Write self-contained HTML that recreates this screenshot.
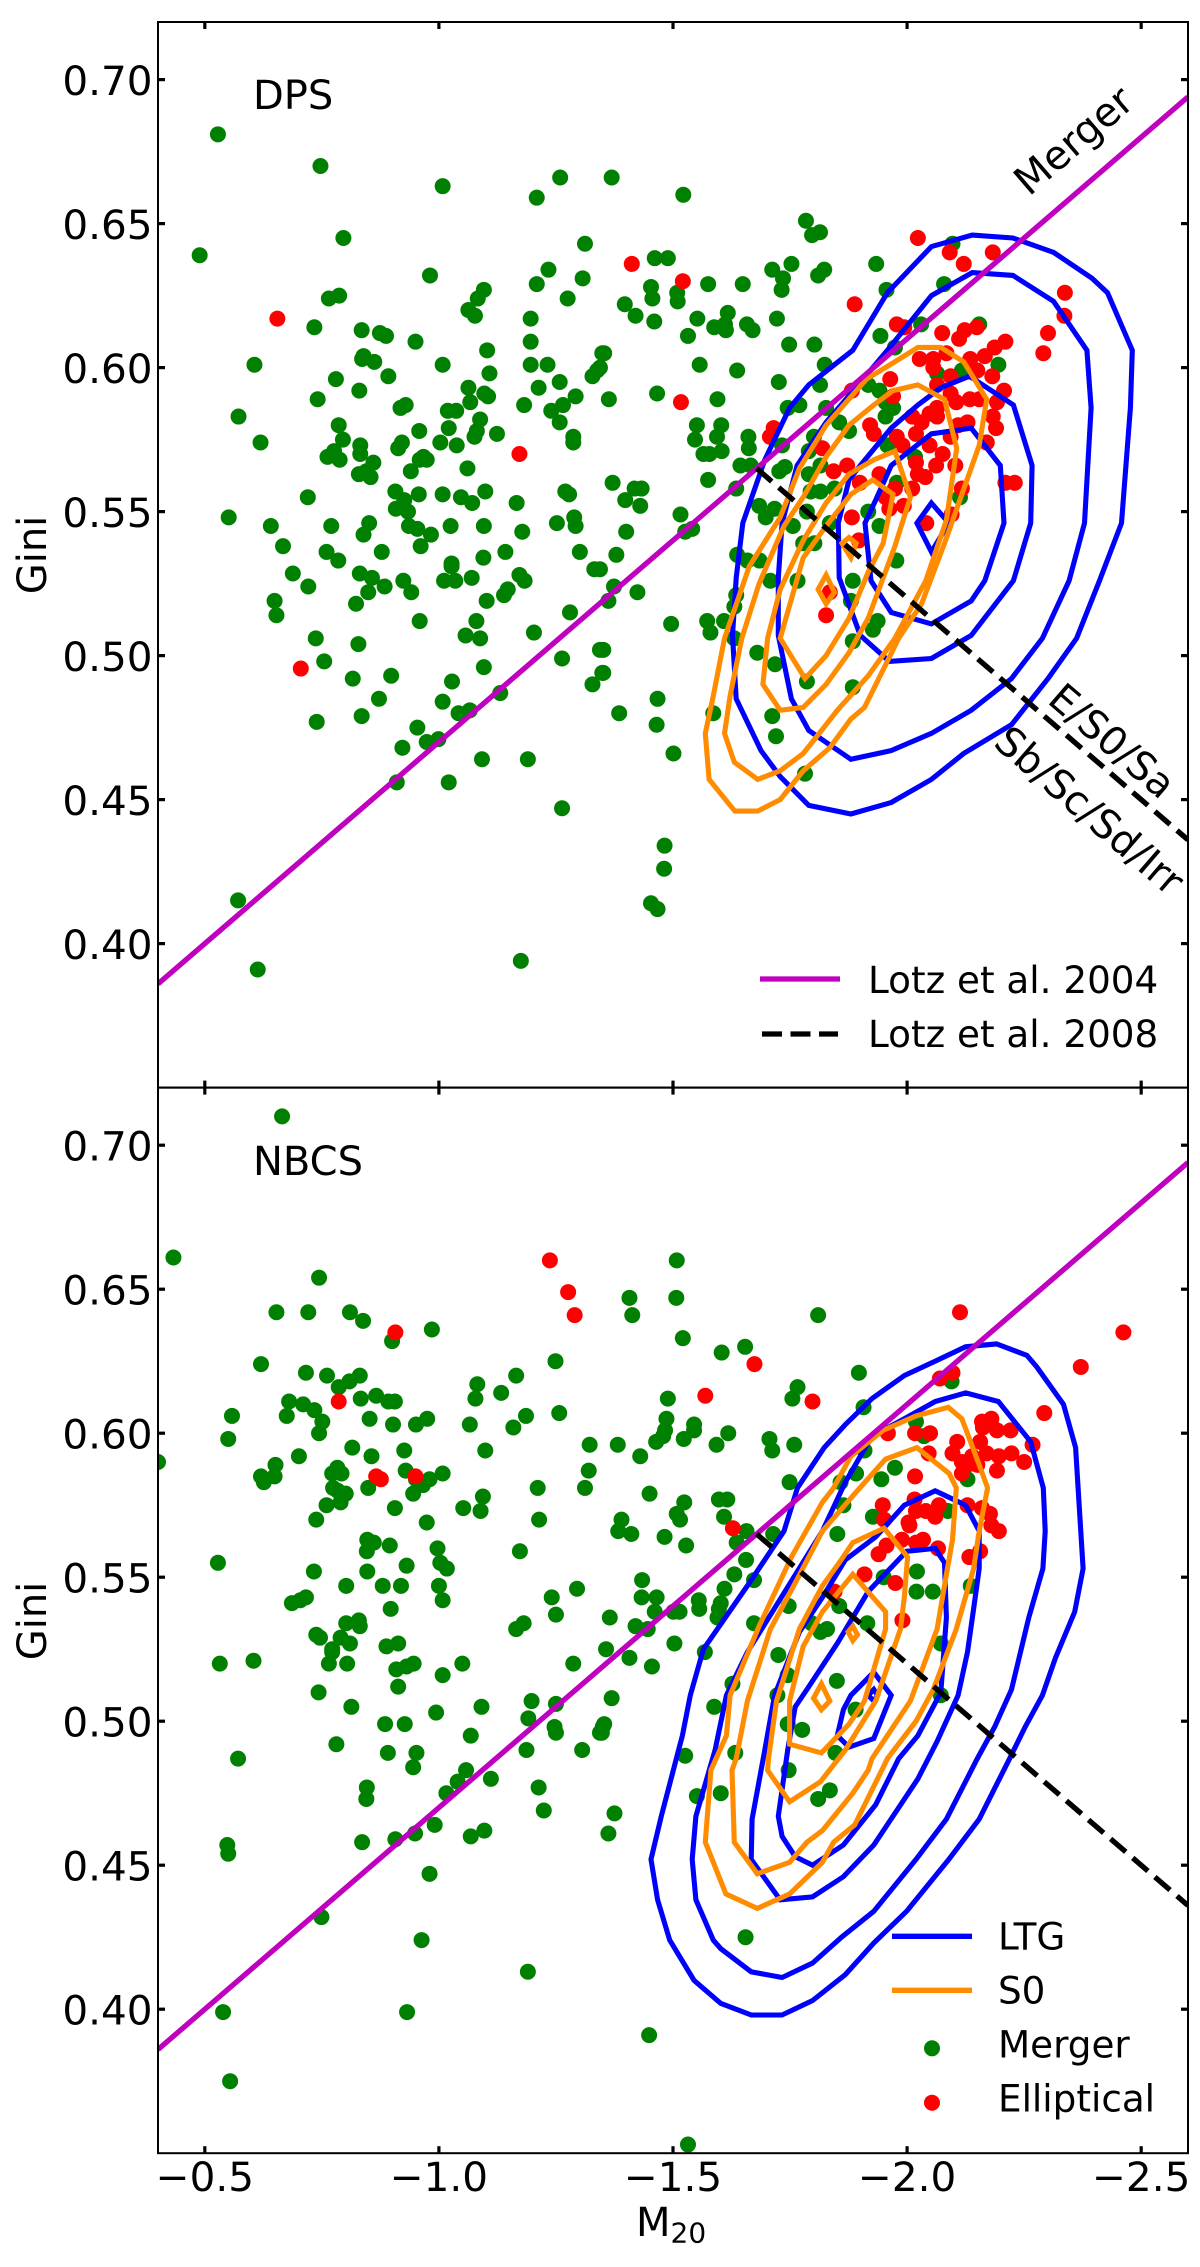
<!DOCTYPE html>
<html lang="en">
<head>
<meta charset="utf-8">
<title>Gini vs M20 for DPS and NBCS</title>
<style>
html,body{margin:0;padding:0;background:#fff;width:1200px;height:2267px;overflow:hidden}
svg{display:block}
text{font-family:"DejaVu Sans","Liberation Sans",sans-serif;fill:#000}
</style>
</head>
<body>
<svg id="figure" width="1200" height="2267" viewBox="0 0 1200 2267" xmlns="http://www.w3.org/2000/svg">
<defs>
<clipPath id="clip-dps"><rect x="158" y="22" width="1030" height="1066"/></clipPath>
<clipPath id="clip-nbcs"><rect x="158" y="1088" width="1030" height="1066"/></clipPath>
</defs>
<g id="marks-dps" clip-path="url(#clip-dps)"></g>
<g id="marks-nbcs" clip-path="url(#clip-nbcs)"></g>
<g id="axes"></g>
<text x="253" y="109" font-size="40">DPS</text>
<text x="253" y="1175" font-size="40">NBCS</text>
<text transform="translate(46 555) rotate(-90)" text-anchor="middle" font-size="40">Gini</text>
<text transform="translate(46 1621) rotate(-90)" text-anchor="middle" font-size="40">Gini</text>
<text x="636" y="2236" font-size="40">M<tspan dy="6.7" font-size="28">20</tspan></text>
<text transform="translate(1029 197) rotate(-40.7)" font-size="40">Merger</text>
<text transform="translate(1046 702) rotate(40.7)" font-size="39.5">E/S0/Sa</text>
<text transform="translate(992 745) rotate(40.7)" font-size="40">Sb/Sc/Sd/Irr</text>
<g>
<line x1="760" x2="840" y1="979" y2="979" stroke="#bf00bf" stroke-width="5.3"/>
<text x="868" y="993" font-size="37.3">Lotz et al. 2004</text>
<line x1="762" x2="838" y1="1034" y2="1034" stroke="#000" stroke-width="5.3" stroke-dasharray="20 8.5"/>
<text x="868" y="1047" font-size="37.3">Lotz et al. 2008</text>
</g>
<g>
<line x1="892" x2="972" y1="1936.3" y2="1936.3" stroke="#0000ff" stroke-width="5.3"/>
<text x="998" y="1949.3" font-size="37.3">LTG</text>
<line x1="892" x2="972" y1="1990.3" y2="1990.3" stroke="#ff8c00" stroke-width="5.3"/>
<text x="998" y="2003.7" font-size="37.3">S0</text>
<circle cx="932" cy="2048.3" r="8" fill="#008000"/>
<text x="998" y="2057.7" font-size="37.3">Merger</text>
<circle cx="932" cy="2102.7" r="8" fill="#ff0000"/>
<text x="998" y="2111.7" font-size="37.3">Elliptical</text>
</g>
</svg>
<script>
const xLimits = [-0.4, -2.6];
const yLimits = [0.35, 0.72];
const xTicks = [-0.5, -1.0, -1.5, -2.0, -2.5];
const yTicks = [0.40, 0.45, 0.50, 0.55, 0.60, 0.65, 0.70];
const lotz2004 = [-0.14, 0.33];
const lotz2008 = [0.14, 0.80];

const dpsMerger = [[-.528,.681],[-.747,.670],[-1.008,.663],[-1.259,.666],[-1.209,.659],[-.796,.645],[-.489,.639],[-1.312,.643],[-1.234,.634],[-.981,.632],[-1.209,.629],[-1.307,.631],[-.787,.625],[-.765,.624],[-1.275,.624],[-1.096,.627],[-1.083,.624],[-1.063,.620],[-1.077,.618],[-.734,.614],[-1.196,.617],[-.835,.613],[-.874,.612],[-.887,.611],[-.950,.609],[-1.196,.609],[-.839,.604],[-1.103,.606],[-.836,.603],[-.862,.602],[-.606,.601],[-1.008,.601],[-1.196,.601],[-1.232,.601],[-1.349,.605],[-1.338,.599],[-1.328,.597],[-.780,.596],[-.892,.597],[-1.108,.598],[-1.258,.595],[-.830,.592],[-1.063,.593],[-1.213,.593],[-1.097,.591],[-1.105,.590],[-1.292,.590],[-.741,.589],[-1.067,.588],[-.929,.587],[-.918,.586],[-1.182,.587],[-1.265,.587],[-1.240,.585],[-1.019,.585],[-1.037,.585],[-.572,.583],[-1.258,.581],[-1.088,.582],[-.786,.580],[-1.021,.579],[-.958,.578],[-1.081,.578],[-1.124,.577],[-1.076,.576],[-.795,.575],[-1.287,.576],[-.619,.574],[-1.287,.574],[-1.003,.574],[-.921,.574],[-.832,.573],[-1.038,.573],[-.913,.572],[-.776,.571],[-.762,.569],[-.788,.568],[-.832,.570],[-.967,.569],[-.959,.568],[-.974,.568],[-.860,.567],[-.845,.564],[-.829,.563],[-.854,.562],[-.940,.564],[-1.061,.565],[-.907,.557],[-.926,.554],[-.957,.556],[-1.008,.556],[-1.047,.555],[-1.071,.553],[-1.099,.557],[-1.270,.557],[-1.278,.556],[-1.166,.553],[-.720,.555],[-.908,.551],[-.934,.550],[-.551,.548],[-.641,.545],[-.770,.545],[-.851,.546],[-.936,.545],[-.954,.544],[-1.025,.545],[-1.096,.545],[-1.252,.546],[-1.289,.548],[-1.292,.545],[-1.178,.543],[-.983,.542],[-.839,.542],[-.961,.538],[-.667,.538],[-.760,.536],[-.878,.536],[-.785,.533],[-1.142,.536],[-1.095,.534],[-1.301,.536],[-1.027,.532],
[-.688,.5285],[-.721,.524],[-.649,.519],[-.653,.514],[-.831,.5285],[-.857,.527],[-.849,.522],[-.884,.524],[-.924,.526],[-.941,.522],[-.823,.518],[-1.011,.526],[-1.035,.526],[-1.070,.527],[-1.027,.531],[-1.172,.528],[-1.183,.526],[-1.147,.523],[-1.139,.521],[-1.102,.519],[-1.332,.530],[-1.280,.515],[-.959,.512],[-1.080,.512],[-1.057,.507],[-1.088,.506],[-1.203,.508],[-.737,.506],[-.828,.504],[-1.344,.502],[-.755,.498],[-1.096,.496],[-1.263,.499],[-.816,.492],[-.898,.493],[-1.028,.491],[-1.349,.494],[-1.328,.490],[-1.131,.487],[-.872,.485],[-1.008,.484],[-.835,.479],[-1.066,.481],[-1.042,.480],[-.739,.477],[-.954,.475],[-.999,.471],[-.974,.470],[-.922,.468],[-1.092,.464],[-1.190,.464],[-.910,.456],[-1.021,.456],[-1.263,.447],[-.571,.415],[-.613,.391],[-1.175,.394],
[-1.369,.666],[-1.522,.660],[-1.784,.651],[-1.814,.647],[-1.797,.646],[-1.461,.638],[-1.489,.638],[-1.753,.636],[-1.712,.634],[-1.735,.631],[-1.732,.627],[-1.823,.634],[-1.810,.632],[-1.934,.636],[-1.453,.628],[-1.456,.624],[-1.509,.626],[-1.510,.623],[-1.575,.629],[-1.649,.629],[-1.397,.622],[-1.420,.618],[-1.460,.616],[-1.552,.617],[-1.617,.619],[-1.588,.614],[-1.611,.615],[-1.613,.613],[-1.658,.615],[-1.670,.613],[-1.722,.617],[-1.532,.611],[-1.748,.608],[-1.802,.608],[-1.943,.611],[-1.956,.627],[-2.079,.629],[-2.097,.643],[-1.353,.605],[-1.344,.600],[-1.557,.601],[-1.637,.599],[-1.726,.595],[-1.824,.601],[-1.814,.594],[-1.363,.589],[-1.466,.591],[-1.595,.589],[-1.551,.580],[-1.603,.580],[-1.594,.576],[-1.547,.575],[-1.661,.576],[-1.662,.572],[-1.604,.571],[-1.565,.570],[-1.578,.570],[-1.644,.566],[-1.666,.566],[-1.739,.5655],[-1.727,.564],[-1.575,.561],[-1.371,.560],[-1.418,.558],[-1.433,.558],[-1.398,.554],[-1.430,.552],[-1.635,.558],[-1.516,.549],[-1.684,.552],[-1.698,.548],[-1.717,.551],[-1.400,.543],[-1.541,.544],[-1.526,.543],[-1.379,.535],[-1.344,.530],[-1.374,.524],[-1.424,.522],[-1.362,.519],[-1.637,.535],[-1.659,.533],[-1.685,.533],[-1.708,.526],[-1.635,.521],[-1.631,.517],[-1.496,.511],[-1.573,.512],[-1.580,.508],[-1.609,.512],[-1.631,.506],[-1.351,.502],[-1.351,.494],[-1.680,.501],[-1.718,.497],[-1.467,.485],[-1.385,.480],[-1.586,.480],
[-1.745,.586],[-1.770,.587],[-1.827,.586],[-1.855,.581],[-1.876,.578],[-1.917,.594],[-1.941,.592],[-1.954,.588],[-1.970,.586],[-1.954,.583],[-1.974,.607],[-1.801,.576],[-1.790,.571],[-1.733,.573],[-1.815,.566],[-1.790,.563],[-1.815,.557],[-1.794,.557],[-1.845,.558],[-1.786,.550],[-1.756,.545],[-1.835,.546],[-1.917,.550],[-1.941,.545],[-1.778,.539],[-1.802,.539],[-1.766,.526],[-1.884,.526],[-1.977,.533],[-1.880,.519],[-1.937,.512],[-1.927,.509],[-1.884,.505],[-1.786,.491],[-1.884,.489],[-1.958,.573],[-1.978,.560],[-2.017,.569],[-2.064,.598],[-2.117,.599],[-2.030,.615],[-2.154,.615],[-2.195,.601],[-2.170,.574],[-2.113,.555],
[-1.465,.476],[-1.501,.466],[-1.712,.479],[-1.720,.472],[-1.782,.459],[-1.482,.434],[-1.481,.426],[-1.453,.414],[-1.467,.412]];

const dpsElliptical = [[-.655,.617],[-1.172,.570],[-.705,.4955],[-1.412,.636],[-1.521,.630],[-1.517,.588],[-2.023,.645],[-2.091,.640],[-2.121,.636],[-2.183,.640],[-2.337,.626],[-2.336,.618],[-2.301,.612],[-2.291,.605],[-1.888,.622],[-1.978,.615],[-1.994,.614],[-2.075,.612],[-2.111,.610],[-2.123,.613],[-2.149,.614],[-2.210,.609],[-2.187,.607],[-2.084,.605],[-2.027,.603],[-2.056,.603],[-2.056,.600],[-2.135,.603],[-2.166,.604],[-2.150,.599],[-2.093,.597],[-2.182,.597],[-1.964,.596],[-1.882,.592],[-1.970,.590],[-2.064,.594],[-2.093,.591],[-2.134,.589],[-2.154,.589],[-2.105,.588],[-2.207,.592],[-2.192,.588],[-2.064,.586],[-2.048,.584],[-2.064,.583],[-2.011,.583],[-2.031,.581],[-1.921,.580],[-1.929,.577],[-2.129,.581],[-2.109,.580],[-2.183,.583],[-2.190,.579],[-2.019,.577],[-1.978,.576],[-1.990,.573],[-2.048,.573],[-2.093,.576],[-2.076,.570],[-2.170,.574],[-2.019,.567],[-2.062,.566],[-2.103,.566],[-2.023,.563],[-2.039,.562],[-1.715,.579],[-1.707,.576],[-1.819,.572],[-1.872,.566],[-1.843,.564],[-1.941,.563],[-1.899,.560],[-1.974,.558],[-2.011,.558],[-2.117,.558],[-1.954,.555],[-1.993,.552],[-1.962,.551],[-1.882,.548],[-2.210,.560],[-2.230,.560],[-2.095,.549],[-2.041,.546],[-1.897,.540],[-1.835,.522],[-1.827,.514]];

const nbcsMerger = [[-.400,.590],[-.665,.710],[-.433,.661],[-.744,.654],[-.653,.642],[-.721,.642],[-.810,.642],[-.838,.639],[-.900,.632],[-.985,.636],[-.620,.624],[-.716,.621],[-.761,.620],[-.786,.616],[-.809,.618],[-.831,.620],[-1.082,.617],[-1.078,.612],[-1.133,.614],[-1.165,.620],[-1.249,.625],[-.680,.611],[-.710,.610],[-.734,.608],[-.751,.604],[-.744,.600],[-.675,.606],[-.558,.606],[-.550,.598],[-.833,.612],[-.866,.613],[-.892,.611],[-.906,.611],[-.852,.605],[-.902,.603],[-.951,.603],[-.975,.605],[-1.066,.603],[-1.159,.602],[-1.186,.606],[-1.257,.607],[-1.322,.596],[-1.320,.587],[-1.312,.581],[-.815,.595],[-.701,.592],[-.856,.592],[-.926,.594],[-1.099,.594],[-.651,.589],[-.649,.585],[-.620,.585],[-.626,.583],[-.783,.588],[-.772,.586],[-.792,.586],[-.929,.587],[-.951,.584],[-.980,.584],[-1.008,.586],[-.966,.582],[-.945,.579],[-.774,.581],[-.784,.580],[-.801,.579],[-.849,.581],[-.790,.576],[-.760,.575],[-.738,.570],[-.906,.574],[-1.094,.578],[-1.052,.574],[-1.089,.573],[-1.211,.581],[-1.214,.570],[-.974,.569],[-.847,.563],[-.861,.562],[-.846,.559],[-.895,.561],[-.997,.560],[-1.003,.555],[-1.017,.553],[-.931,.554],[-.847,.552],[-.733,.552],[-1.173,.559],[-.528,.555],[-.802,.547],[-.880,.547],[-.919,.547],[-1.000,.547],[-1.008,.542],[-1.295,.546],[-1.241,.543],[-1.250,.537],[-.686,.541],[-.704,.542],[-.716,.543],[-.897,.539],[-.802,.534],[-.829,.535],[-.831,.533],[-1.181,.534],[-1.165,.532],[-.738,.530],[-.746,.529],[-.790,.529],[-.810,.527],[-.772,.525],[-.888,.526],[-.913,.527],
[-.532,.520],[-.604,.521],[-.765,.520],[-.804,.520],[-.772,.524],[-.909,.518],[-.931,.519],[-.946,.520],[-1.050,.520],[-1.008,.516],[-.913,.512],[-1.287,.520],[-.743,.510],[-.813,.505],[-.994,.503],[-1.091,.505],[-.885,.499],[-.927,.499],[-1.068,.495],[-1.198,.507],[-1.191,.501],[-1.250,.506],[-1.247,.498],[-1.250,.496],[-1.187,.490],[-1.306,.490],[-1.350,.498],[-1.344,.496],[-.781,.492],[-.891,.489],[-.952,.489],[-.945,.484],[-.571,.487],[-1.058,.483],[-1.040,.479],[-1.016,.475],[-1.111,.480],[-1.213,.477],[-1.224,.469],[-.846,.477],[-.845,.473],[-.548,.457],[-.550,.454],[-.836,.458],[-.907,.459],[-.949,.461],[-.991,.464],[-1.068,.460],[-1.097,.462],[-.980,.447],[-.749,.432],[-.963,.424],[-1.190,.413],[-.539,.399],[-.932,.399],[-.554,.375],
[-1.508,.660],[-1.407,.647],[-1.507,.647],[-1.413,.641],[-1.810,.641],[-1.521,.633],[-1.654,.630],[-1.604,.628],[-1.897,.621],[-1.766,.616],[-1.755,.612],[-1.489,.612],[-1.486,.605],[-1.545,.603],[-1.545,.601],[-1.483,.601],[-1.479,.599],[-1.464,.597],[-1.523,.598],[-1.618,.600],[-1.593,.596],[-1.706,.598],[-1.712,.594],[-1.759,.596],[-1.382,.596],[-1.430,.592],[-1.907,.609],[-2.019,.604],[-2.036,.599],[-2.095,.618],[-1.909,.594],[-1.974,.588],[-1.945,.584],[-1.891,.586],[-1.858,.583],[-1.749,.583],[-2.129,.584],[-1.450,.579],[-1.524,.576],[-1.508,.572],[-1.515,.570],[-1.598,.577],[-1.616,.577],[-1.609,.571],[-1.864,.575],[-1.927,.571],[-2.087,.573],[-1.390,.570],[-1.383,.566],[-1.411,.565],[-1.657,.566],[-1.636,.562],[-1.714,.565],[-1.482,.564],[-1.528,.561],[-1.656,.556],[-1.851,.565],[-1.631,.551],[-1.673,.549],[-1.434,.549],[-1.433,.543],[-1.465,.543],[-1.610,.546],[-1.555,.542],[-1.556,.539],[-1.602,.541],[-1.598,.539],[-1.595,.536],[-1.461,.538],[-1.501,.538],[-1.514,.538],[-1.365,.536],[-1.420,.533],[-1.446,.532],[-1.503,.527],[-1.357,.525],[-1.407,.522],[-1.455,.519],[-1.568,.524],[-1.673,.534],[-1.747,.540],[-1.855,.540],[-1.915,.534],[-1.796,.534],[-1.815,.531],[-1.829,.532],[-1.725,.523],[-1.950,.550],[-2.021,.552],[-2.020,.545],[-2.055,.545],[-2.136,.547],[-2.072,.527],[-1.850,.514],[-2.072,.509],[-1.627,.513],[-1.723,.509],[-1.745,.516],[-1.588,.505],[-1.369,.508],[-1.890,.504],[-1.353,.499],[-1.348,.496],[-1.745,.499],[-1.776,.497],[-1.526,.488],[-1.633,.489],[-1.847,.489],
[-1.747,.483],[-1.551,.474],[-1.602,.475],[-1.810,.473],[-1.835,.476],[-1.375,.468],[-1.362,.461],[-1.655,.425],[-1.449,.391],[-1.532,.353]];

const nbcsElliptical = [[-1.237,.660],[-1.276,.649],[-1.290,.641],[-.907,.635],[-.786,.611],[-.866,.585],[-.876,.584],[-.950,.585],[-2.113,.642],[-2.462,.635],[-2.371,.623],[-1.674,.624],[-1.569,.613],[-1.798,.611],[-2.097,.621],[-2.070,.619],[-2.293,.607],[-2.160,.604],[-2.180,.605],[-2.162,.602],[-2.192,.601],[-2.221,.601],[-1.959,.600],[-2.017,.600],[-2.049,.600],[-2.268,.596],[-2.107,.597],[-2.156,.597],[-2.170,.593],[-2.097,.593],[-2.046,.593],[-2.139,.592],[-2.223,.593],[-2.196,.592],[-2.250,.590],[-2.117,.590],[-2.129,.589],[-2.150,.589],[-2.192,.587],[-2.117,.586],[-2.017,.585],[-2.016,.577],[-1.948,.575],[-2.068,.575],[-2.129,.575],[-2.160,.574],[-2.019,.573],[-2.040,.573],[-2.060,.571],[-2.177,.572],[-1.951,.570],[-2.003,.569],[-2.005,.568],[-2.180,.568],[-2.196,.566],[-1.628,.567],[-2.034,.563],[-2.019,.562],[-1.989,.563],[-1.956,.561],[-1.939,.558],[-2.066,.560],[-2.133,.557],[-2.156,.559],[-1.909,.551],[-1.975,.548],[-1.845,.545],[-1.990,.535]];

const dpsLtgContours = [
[[-2.139,.646],[-2.226,.645],[-2.313,.640],[-2.395,.631],[-2.428,.626],[-2.481,.606],[-2.477,.586],[-2.458,.546],[-2.411,.526],[-2.362,.506],[-2.301,.492],[-2.223,.476],[-2.121,.466],[-2.052,.457],[-1.966,.449],[-1.880,.445],[-1.790,.448],[-1.729,.458],[-1.688,.467],[-1.635,.485],[-1.627,.507],[-1.635,.527],[-1.649,.546],[-1.696,.568],[-1.749,.586],[-1.790,.594],[-1.884,.606],[-1.958,.626],[-2.052,.642]],
[[-2.139,.633],[-2.226,.632],[-2.313,.623],[-2.384,.606],[-2.393,.586],[-2.379,.546],[-2.346,.526],[-2.289,.506],[-2.223,.492],[-2.137,.481],[-2.052,.473],[-1.966,.467],[-1.880,.464],[-1.790,.474],[-1.753,.485],[-1.725,.507],[-1.725,.527],[-1.733,.546],[-1.765,.566],[-1.827,.581],[-1.880,.591],[-1.958,.606],[-2.052,.625]],
[[-2.133,.597],[-2.227,.587],[-2.267,.566],[-2.264,.546],[-2.227,.526],[-2.137,.507],[-2.052,.499],[-1.962,.498],[-1.900,.507],[-1.855,.527],[-1.853,.546],[-1.876,.561],[-1.900,.566],[-1.966,.579],[-2.023,.587],[-2.072,.593]],
[[-2.137,.579],[-2.052,.577],[-1.966,.566],[-1.933,.554],[-1.910,.546],[-1.923,.526],[-1.966,.515],[-2.052,.511],[-2.137,.519],[-2.166,.526],[-2.207,.546],[-2.199,.566]],
[[-2.052,.553],[-2.089,.546],[-2.052,.536],[-2.021,.546]]];

const dpsS0Contours = [
[[-1.632,.446],[-1.681,.446],[-1.729,.450],[-1.778,.460],[-1.835,.468],[-1.880,.478],[-1.909,.482],[-1.982,.506],[-2.031,.518],[-2.080,.539],[-2.154,.573],[-2.170,.589],[-2.121,.602],[-2.072,.607],[-2.023,.607],[-1.974,.602],[-1.913,.596],[-1.827,.580],[-1.770,.565],[-1.729,.548],[-1.663,.531],[-1.610,.506],[-1.586,.486],[-1.569,.473],[-1.577,.457]],
[[-2.023,.594],[-1.970,.592],[-1.929,.587],[-1.876,.580],[-1.827,.569],[-1.778,.555],[-1.737,.545],[-1.684,.525],[-1.647,.506],[-1.622,.486],[-1.610,.473],[-1.631,.463],[-1.681,.457],[-1.729,.460],[-1.778,.466],[-1.827,.476],[-1.851,.481],[-1.917,.493],[-1.974,.506],[-2.040,.526],[-2.084,.547],[-2.106,.572],[-2.080,.589]],
[[-1.974,.571],[-1.929,.568],[-1.876,.563],[-1.827,.553],[-1.778,.540],[-1.729,.523],[-1.702,.506],[-1.692,.490],[-1.729,.481],[-1.778,.482],[-1.827,.490],[-1.876,.501],[-1.917,.513],[-1.974,.538],[-2.007,.555]],
[[-1.927,.561],[-1.880,.556],[-1.827,.545],[-1.778,.534],[-1.729,.506],[-1.782,.492],[-1.827,.500],[-1.876,.513],[-1.917,.529],[-1.949,.539],[-1.970,.556]],
[[-1.827,.528],[-1.845,.522],[-1.827,.518],[-1.810,.523]],
[[-1.876,.541],[-1.891,.539],[-1.880,.534],[-1.861,.539]]];

const nbcsLtgContours = [
[[-2.191,.631],[-2.256,.627],[-2.277,.623],[-2.334,.610],[-2.360,.595],[-2.376,.553],[-2.358,.538],[-2.317,.522],[-2.289,.509],[-2.252,.498],[-2.219,.487],[-2.154,.466],[-2.089,.452],[-1.999,.434],[-1.929,.423],[-1.868,.412],[-1.798,.403],[-1.733,.398],[-1.667,.398],[-1.602,.402],[-1.545,.410],[-1.493,.424],[-1.467,.438],[-1.453,.452],[-1.475,.467],[-1.512,.490],[-1.520,.495],[-1.537,.509],[-1.565,.525],[-1.663,.548],[-1.737,.566],[-1.766,.581],[-1.823,.595],[-1.868,.603],[-1.925,.612],[-1.994,.620],[-2.060,.625],[-2.125,.630]],
[[-2.125,.614],[-2.195,.611],[-2.264,.597],[-2.291,.581],[-2.295,.566],[-2.290,.553],[-2.260,.536],[-2.223,.511],[-2.187,.498],[-2.150,.487],[-2.084,.466],[-2.019,.452],[-1.929,.434],[-1.860,.425],[-1.798,.416],[-1.733,.411],[-1.667,.413],[-1.602,.421],[-1.586,.424],[-1.549,.438],[-1.541,.452],[-1.549,.467],[-1.590,.490],[-1.614,.509],[-1.659,.524],[-1.819,.566],[-1.868,.583],[-1.925,.599],[-1.994,.605],[-2.060,.611]],
[[-2.060,.580],[-2.125,.575],[-2.154,.566],[-2.154,.553],[-2.142,.539],[-2.129,.524],[-2.109,.509],[-2.064,.493],[-2.023,.480],[-1.929,.457],[-1.864,.446],[-1.798,.439],[-1.729,.438],[-1.667,.452],[-1.669,.466],[-1.696,.490],[-1.717,.509],[-1.770,.531],[-1.819,.543],[-1.868,.556],[-1.933,.564],[-1.994,.575]],
[[-1.999,.559],[-2.060,.560],[-2.080,.555],[-2.084,.536],[-2.072,.510],[-2.023,.495],[-1.982,.487],[-1.933,.471],[-1.864,.457],[-1.798,.450],[-1.761,.453],[-1.733,.460],[-1.725,.467],[-1.745,.490],[-1.761,.505],[-1.786,.511],[-1.851,.527],[-1.917,.545]],
[[-1.929,.517],[-1.966,.509],[-1.929,.494],[-1.876,.491],[-1.851,.495],[-1.864,.504],[-1.880,.509]],
[[-1.929,.511],[-1.937,.509],[-1.929,.507],[-1.917,.509]]];

const nbcsS0Contours = [
[[-2.088,.609],[-2.117,.605],[-2.154,.589],[-2.172,.581],[-2.154,.566],[-2.142,.553],[-2.105,.532],[-2.056,.511],[-2.019,.500],[-1.958,.487],[-1.949,.484],[-1.888,.464],[-1.843,.458],[-1.819,.451],[-1.749,.440],[-1.680,.435],[-1.613,.440],[-1.569,.458],[-1.581,.483],[-1.614,.495],[-1.622,.509],[-1.684,.533],[-1.753,.557],[-1.819,.576],[-1.843,.581],[-1.880,.592],[-1.949,.601],[-2.019,.606]],
[[-2.021,.595],[-1.954,.591],[-1.888,.579],[-1.819,.566],[-1.761,.548],[-1.708,.532],[-1.659,.507],[-1.635,.487],[-1.626,.483],[-1.631,.458],[-1.680,.447],[-1.749,.451],[-1.786,.458],[-1.819,.462],[-1.884,.475],[-1.917,.483],[-1.925,.487],[-2.007,.507],[-2.064,.532],[-2.084,.551],[-2.097,.563],[-2.105,.581],[-2.090,.586]],
[[-1.951,.567],[-1.884,.562],[-1.855,.555],[-1.819,.547],[-1.770,.532],[-1.721,.507],[-1.704,.487],[-1.702,.483],[-1.749,.472],[-1.815,.479],[-1.868,.490],[-1.933,.507],[-1.986,.532],[-1.994,.543],[-2.001,.557]],
[[-1.884,.551],[-1.819,.538],[-1.778,.526],[-1.749,.507],[-1.749,.492],[-1.817,.489],[-1.876,.499],[-1.909,.507],[-1.954,.532],[-1.954,.538]],
[[-1.817,.513],[-1.835,.507],[-1.817,.504],[-1.800,.508]],
[[-1.884,.533],[-1.894,.530],[-1.884,.528],[-1.874,.531]]];

const SVGNS = 'http://www.w3.org/2000/svg';
const plotLeft = 158, plotRight = 1188, plotHeight = 1065.6;

function xScale(m) {
  return plotLeft + (m - xLimits[0]) / (xLimits[1] - xLimits[0]) * (plotRight - plotLeft);
}
function yScale(g, top) {
  return top + (yLimits[1] - g) / (yLimits[1] - yLimits[0]) * plotHeight;
}
function make(parent, tag, attrs) {
  const node = document.createElementNS(SVGNS, tag);
  for (const key in attrs) node.setAttribute(key, attrs[key]);
  parent.appendChild(node);
  return node;
}
function drawPoints(parent, points, top, color, name) {
  points.forEach(function (p) {
    const el = make(parent, 'circle', {cx: xScale(p[0]), cy: yScale(p[1], top), r: 8, fill: color});
    
    
  });
}
function drawContours(parent, contours, top, color, name) {
  contours.forEach(function (c) {
    const pts = c.map(function (p) { return xScale(p[0]).toFixed(1) + ',' + yScale(p[1], top).toFixed(1); }).join(' ');
    const el = make(parent, 'polygon', {points: pts, fill: 'none', stroke: color, 'stroke-width': 5.1, 'stroke-linejoin': 'miter'});
    
    
  });
}
function lineValue(coef, m) {
  return coef[0] * m + coef[1];
}
function drawReferenceLines(parent, top) {
  const a = make(parent, 'line', {
    x1: xScale(xLimits[0]), y1: yScale(lineValue(lotz2004, xLimits[0]), top),
    x2: xScale(xLimits[1]), y2: yScale(lineValue(lotz2004, xLimits[1]), top),
    stroke: '#bf00bf', 'stroke-width': 5.3
  });
  
  
  const start = (lotz2008[1] - lotz2004[1]) / (lotz2004[0] - lotz2008[0]);
  const b = make(parent, 'line', {
    x1: xScale(start), y1: yScale(lineValue(lotz2008, start), top),
    x2: xScale(xLimits[1]), y2: yScale(lineValue(lotz2008, xLimits[1]), top),
    stroke: '#000', 'stroke-width': 5.3, 'stroke-dasharray': '20 9.2'
  });
  
  
}
function drawAxes(parent, top, showXLabels) {
  const bottom = top + plotHeight;
  const frame = make(parent, 'rect', {x: plotLeft, y: top, width: plotRight - plotLeft, height: plotHeight, fill: 'none', stroke: '#000', 'stroke-width': 2});
  
  
  xTicks.forEach(function (t) {
    const x = xScale(t);
    const t1 = make(parent, 'line', {x1: x, x2: x, y1: bottom, y2: bottom - 7, stroke: '#000', 'stroke-width': 3.2});
    
    
    const t2 = make(parent, 'line', {x1: x, x2: x, y1: top, y2: top + 7, stroke: '#000', 'stroke-width': 3.2});
    
    
    if (showXLabels) {
      const lab = make(parent, 'text', {x: x, y: 2191, 'text-anchor': 'middle', 'font-size': 40.5});
      
      
      lab.textContent = '\u2212' + Math.abs(t).toFixed(1);
    }
  });
  yTicks.forEach(function (t) {
    const y = yScale(t, top);
    const t1 = make(parent, 'line', {x1: plotLeft, x2: plotLeft + 7, y1: y, y2: y, stroke: '#000', 'stroke-width': 3.2});
    
    
    const t2 = make(parent, 'line', {x1: plotRight, x2: plotRight - 7, y1: y, y2: y, stroke: '#000', 'stroke-width': 3.2});
    
    
    const lab = make(parent, 'text', {x: 152.5, y: y + 15.5, 'text-anchor': 'end', 'font-size': 40.5});
    
    
    lab.textContent = t.toFixed(2);
  });
}
function drawPanel(groupId, top, merger, elliptical, ltg, s0) {
  const g = document.getElementById(groupId);
  drawPoints(g, merger, top, '#008000', 'merger-point');
  drawPoints(g, elliptical, top, '#ff0000', 'elliptical-point');
  drawContours(g, ltg, top, '#0000ff', 'ltg-contour');
  drawContours(g, s0, top, '#ff8c00', 's0-contour');
  drawReferenceLines(g, top);
}
drawPanel('marks-dps', 22, dpsMerger, dpsElliptical, dpsLtgContours, dpsS0Contours);
drawPanel('marks-nbcs', 1087.6, nbcsMerger, nbcsElliptical, nbcsLtgContours, nbcsS0Contours);
const axesGroup = document.getElementById('axes');
drawAxes(axesGroup, 22, false);
drawAxes(axesGroup, 1087.6, true);
</script>
</body>
</html>
